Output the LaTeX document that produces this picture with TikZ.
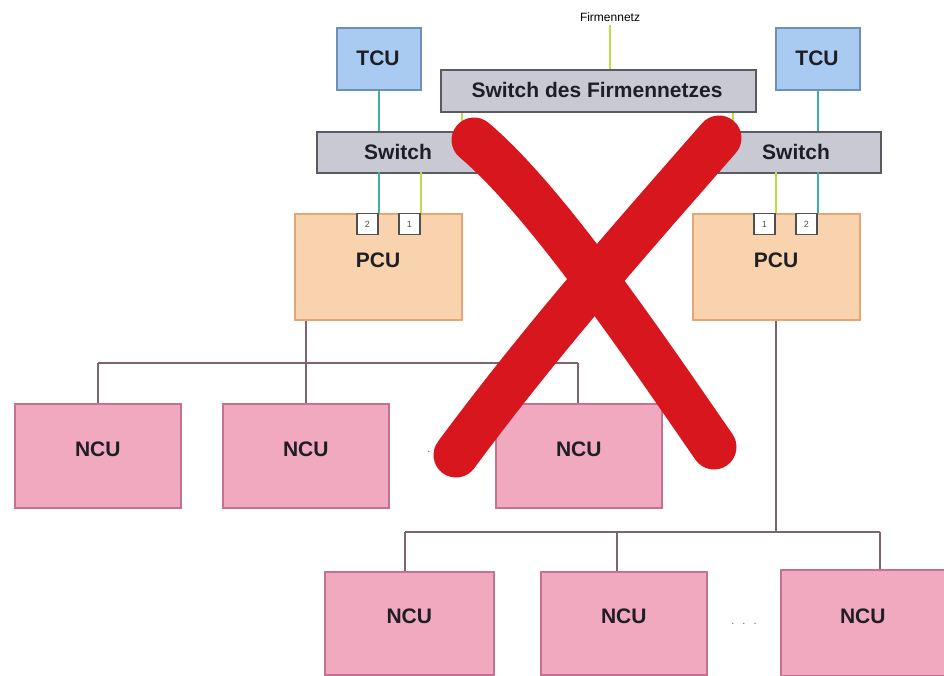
\documentclass[tikz,border=0pt]{standalone}
\usepackage{fontspec}
\setmainfont{Liberation Sans}
\begin{document}
\begin{tikzpicture}[x=1pt,y=-1pt,
  box/.style={draw, line width=1.6pt, inner sep=0pt, anchor=north west},
  lbl/.style={font=\bfseries\fontsize{21}{24}\selectfont, inner sep=0pt, text=lbltext},
  tcu/.style={box, fill=tcufill, draw=tculine},
  sw/.style={box, fill=swfill, draw=swline},
  pcu/.style={box, fill=pcufill, draw=pculine},
  ncu/.style={box, fill=ncufill, draw=nculine},
  port/.style={draw=portline, fill=white, line width=1.3pt, minimum width=21pt, minimum height=21pt, inner sep=0pt, anchor=north west, text=portline, font=\fontsize{9}{10}\selectfont},
  teal/.style={draw=tealline, line width=2pt},
  lime/.style={draw=limeline, line width=2pt},
  tree/.style={draw=treeline, line width=1.8pt},
  cross/.style={draw=crossred, line width=45pt, line cap=round}
]
\definecolor{tcufill}{HTML}{A9CBF2}
\definecolor{tculine}{HTML}{6F8FB8}
\definecolor{swfill}{HTML}{C9C9D3}
\definecolor{swline}{HTML}{5A5A60}
\definecolor{pcufill}{HTML}{F8D3AE}
\definecolor{pculine}{HTML}{E6A673}
\definecolor{ncufill}{HTML}{F1A9C0}
\definecolor{nculine}{HTML}{C5718F}
\definecolor{portline}{HTML}{505050}
\definecolor{tealline}{HTML}{3FAFA6}
\definecolor{limeline}{HTML}{C3D94A}
\definecolor{treeline}{HTML}{7D6470}
\definecolor{crossred}{HTML}{D8161E}
\definecolor{lbltext}{HTML}{1E1E24}

\useasboundingbox (0,0) rectangle (944,675);

% uplink label
\node[font=\fontsize{12}{14}\selectfont] (net) at (610,17) {Firmennetz};

% upper level boxes
\node[sw, minimum width=315pt, minimum height=42pt] (sdf) at (440,69) {};
\node[tcu, minimum width=84pt, minimum height=62pt] (tcuL) at (336,27) {};
\node[tcu, minimum width=84pt, minimum height=62pt] (tcuR) at (775,27) {};
\node[sw, minimum width=160pt, minimum height=41pt] (swL) at (316,131) {};
\node[sw, minimum width=162pt, minimum height=41pt] (swR) at (718,131) {};
\node[pcu, minimum width=167pt, minimum height=106pt] (pcuL) at (294,213) {};
\node[pcu, minimum width=167pt, minimum height=106pt] (pcuR) at (692,213) {};

% network links
\draw[lime] (net.south) -- (net.south |- sdf.north);
\draw[lime] (sdf.south -| 462,0) -- (swL.north -| 462,0);
\draw[lime] (sdf.south -| 733,0) -- (swR.north -| 733,0);
\draw[teal] (tcuL.south) -- (swL.north -| tcuL.south);
\draw[teal] (tcuR.south) -- (swR.north -| tcuR.south);
\draw[teal] (378.5,172) coordinate (aL2) -- (378.5,213) coordinate (bL2);
\draw[lime] (420.5,172) coordinate (aL1) -- (420.5,213) coordinate (bL1);
\draw[lime] (775.5,172) coordinate (aR1) -- (775.5,213) coordinate (bR1);
\draw[teal] (817.5,172) coordinate (aR2) -- (817.5,213) coordinate (bR2);

% ports on the PCUs
\node[port, anchor=north east] (pL2) at (bL2) {2};
\node[port, anchor=north east] (pL1) at (bL1) {1};
\node[port, anchor=north east] (pR1) at (bR1) {1};
\node[port, anchor=north east] (pR2) at (bR2) {2};

% labels of the upper level
\node[lbl] (sdft) at (597,90) {Switch des Firmennetzes};
\node[lbl] (tcuLt) at (378,58) {TCU};
\node[lbl] (tcuRt) at (817,58) {TCU};
\node[lbl] (swLt) at (398,152) {Switch};
\node[lbl] (swRt) at (796,152) {Switch};
\node[lbl] (pcuLt) at (378,260) {PCU};
\node[lbl] (pcuRt) at (776,260) {PCU};

% NCU rows
\node[ncu, minimum width=166pt, minimum height=104pt] (n1) at (14,403) {};
\node[ncu, minimum width=166pt, minimum height=104pt] (n2) at (222,403) {};
\node[ncu, minimum width=166pt, minimum height=104pt] (n3) at (495,403) {};
\node[ncu, minimum width=169pt, minimum height=103pt] (m1) at (324,571) {};
\node[ncu, minimum width=166pt, minimum height=103pt] (m2) at (540,571) {};
\node[ncu, minimum width=164pt, minimum height=106pt] (m3) at (780,569) {};
\foreach \n in {n1,n2,n3,m1,m2,m3}
  \node[lbl] (\n t) at ([yshift=7pt]\n.center) {NCU};
\node[font=\fontsize{14}{14}\selectfont, text=gray] (d1) at (432,452) {$\cdot\,\cdot$};
\node[font=\fontsize{14}{14}\selectfont, text=gray] (d2) at (744,624) {$\cdot\;\cdot\;\cdot$};

% tree links from the PCUs
\coordinate (busL) at (306,363);
\coordinate (busR) at (776,532);
\draw[tree] (pcuL.south west -| busL) -- (busL);
\draw[tree] (98,363) -- (578,363);
\draw[tree] (98,363) -- (n1.north -| 98,0);
\draw[tree] (busL) -- (n2.north -| busL);
\draw[tree] (578,363) -- (n3.north -| 578,0);
\draw[tree] (pcuR.south -| busR) -- (busR);
\draw[tree] (405,532) -- (880,532);
\draw[tree] (405,532) -- (m1.north -| 405,0);
\draw[tree] (617,532) -- (m2.north -| 617,0);
\draw[tree] (880,532) -- (m3.north -| 880,0);

% crossing out
\draw[cross] (474,140) .. controls (545,200) and (640,340) .. (714,447);
\draw[cross] (719,138) .. controls (630,240) and (545,335) .. (456,455);
\end{tikzpicture}
\end{document}
